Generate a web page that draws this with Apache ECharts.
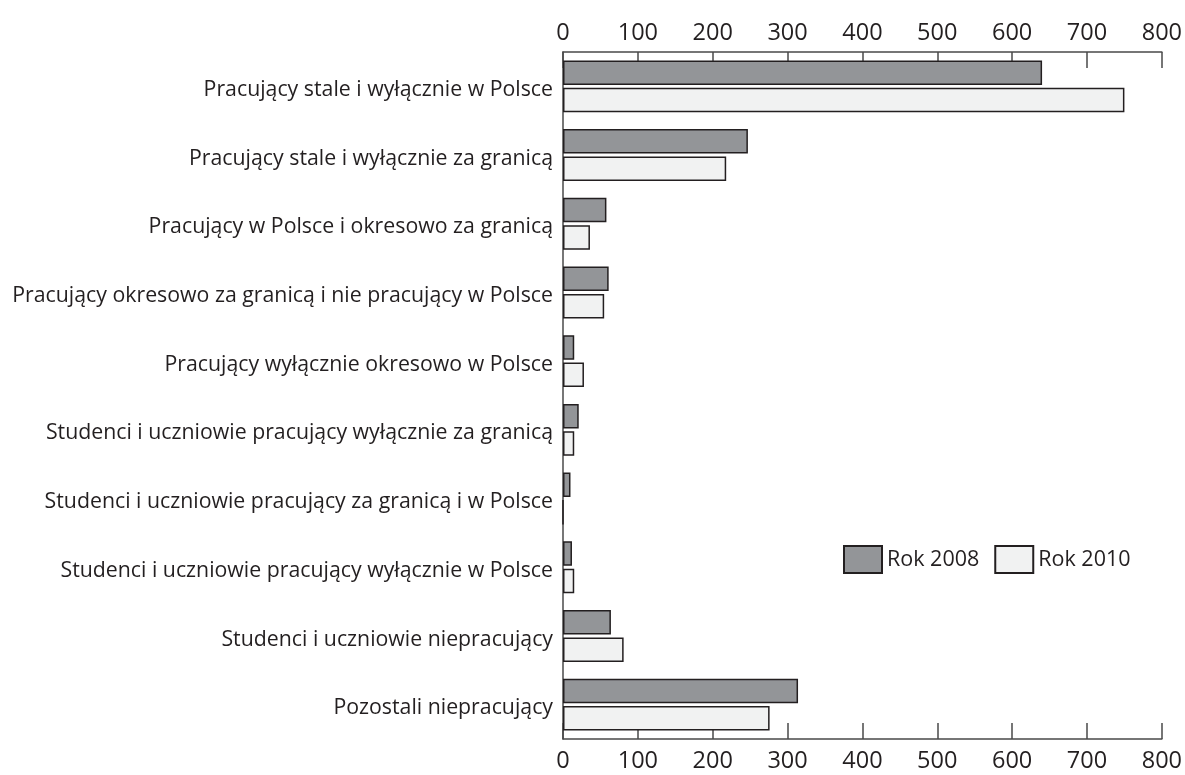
<!DOCTYPE html>
<html>
<head>
<meta charset="utf-8">
<script src="https://cdn.jsdelivr.net/npm/echarts@6/dist/echarts.min.js"></script>
<style>html,body{margin:0;padding:0;background:#fff;}#c{width:1185px;height:775px;}</style>
</head>
<body>
<div id="c"></div>
<script>
const categories = [
  'Pracujący stale i wyłącznie w Polsce',
  'Pracujący stale i wyłącznie za granicą',
  'Pracujący w Polsce i okresowo za granicą',
  'Pracujący okresowo za granicą i nie pracujący w Polsce',
  'Pracujący wyłącznie okresowo w Polsce',
  'Studenci i uczniowie pracujący wyłącznie za granicą',
  'Studenci i uczniowie pracujący za granicą i w Polsce',
  'Studenci i uczniowie pracujący wyłącznie w Polsce',
  'Studenci i uczniowie niepracujący',
  'Pozostali niepracujący'
];
const rok2008 = [640, 247, 58, 61, 15, 21, 10, 12, 64, 314];
const rok2010 = [750, 218, 36, 55, 28, 15, 0, 15, 81, 276];
const seriesNames = ['Rok 2008', 'Rok 2010'];

const FONT = '"Open Sans", sans-serif';
const TXT = '#231f20';
const AX = '#4a4a4a';

const valueAxis = (pos) => ({
  type: 'value', position: pos, min: 0, max: 800, interval: 100,
  axisLine: { show: true, lineStyle: { color: AX, width: 1.5 } },
  axisTick: { show: true, inside: true, length: 16, lineStyle: { color: AX, width: 1.5 } },
  axisLabel: { color: TXT, fontSize: 23.5, fontFamily: FONT, margin: pos === 'top' ? 7 : 10 },
  splitLine: { show: false }
});

const chart = echarts.init(document.getElementById('c'));
chart.setOption({
  animation: false,
  backgroundColor: '#fff',
  grid: { left: 563, right: 22.5, top: 52, bottom: 36, containLabel: false },
  legend: {
    left: 843, top: 545, padding: 0,
    icon: 'rect',
    itemWidth: 38, itemHeight: 27, itemGap: 15,
    textStyle: { color: TXT, fontSize: 21.5, fontFamily: FONT },
    data: seriesNames
  },
  xAxis: [valueAxis('top'), valueAxis('bottom')],
  yAxis: {
    type: 'category', inverse: true, data: categories,
    axisLine: { show: true, lineStyle: { color: AX, width: 1.5 } },
    axisTick: { show: false },
    axisLabel: {
      color: TXT, fontSize: 21.3, fontFamily: FONT, margin: 10,
      formatter: (v) => '{a|' + v + '}',
      rich: { a: { color: TXT, fontSize: 21.3, fontFamily: FONT, padding: [7, 0, 0, 0] } }
    }
  },
  series: [
    {
      name: seriesNames[0], type: 'bar', xAxisIndex: 0, data: rok2008,
      barWidth: 24.5, barGap: '12%',
      itemStyle: { color: '#939598', borderColor: '#231f20', borderWidth: 1.5 }
    },
    {
      name: seriesNames[1], type: 'bar', xAxisIndex: 0, data: rok2010,
      barWidth: 24.5, barGap: '12%',
      itemStyle: { color: '#f1f2f2', borderColor: '#231f20', borderWidth: 1.5 }
    }
  ]
});
</script>
</body>
</html>
